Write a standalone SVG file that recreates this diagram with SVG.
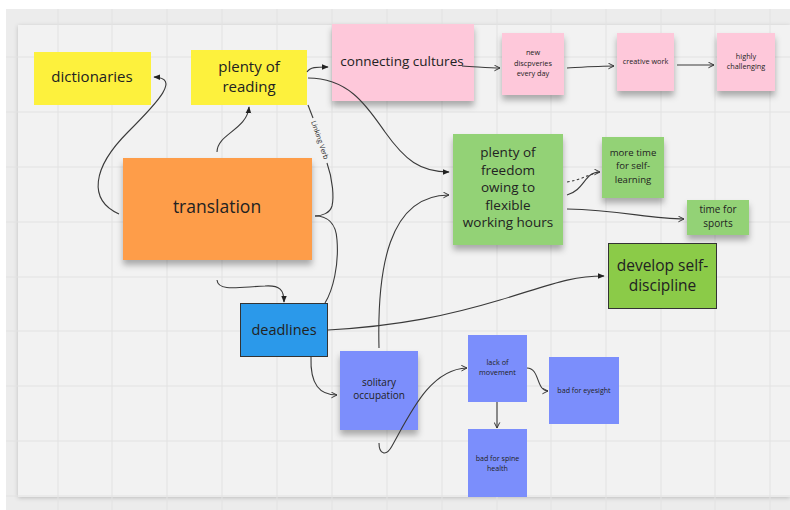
<svg xmlns="http://www.w3.org/2000/svg" width="790" height="510" viewBox="0 0 790 510">
<defs>
<style>
.t{font-family:"Open Sans","Liberation Sans",sans-serif;fill:#222;text-anchor:middle}
.c{fill:none;stroke:#3a3a3a;stroke-width:1.1}
.grid line{stroke:#e2e2e2;stroke-width:1}
</style>
<filter id="sh" x="-20%" y="-20%" width="140%" height="160%">
<feDropShadow dx="0" dy="5" stdDeviation="3" flood-color="#000" flood-opacity="0.3"/>
</filter>
<filter id="psh" x="-5%" y="-5%" width="110%" height="110%">
<feDropShadow dx="0" dy="1" stdDeviation="2" flood-color="#000" flood-opacity="0.2"/>
</filter>
<marker id="af" viewBox="0 0 10 10" refX="9" refY="5" markerWidth="7" markerHeight="7" orient="auto" markerUnits="userSpaceOnUse">
<path d="M0,1 L10,5 L0,9 Z" fill="#222"/>
</marker>
<marker id="ao" viewBox="0 0 10 10" refX="9" refY="5" markerWidth="7" markerHeight="7" orient="auto" markerUnits="userSpaceOnUse">
<path d="M1,1 L9,5 L1,9" fill="none" stroke="#333" stroke-width="1.4"/>
</marker>
</defs>
<rect x="0" y="0" width="790" height="510" fill="#ffffff"/>
<rect x="6" y="9" width="784" height="501" fill="#ececec"/>
<rect x="18" y="25" width="772" height="472" fill="#f2f2f2" filter="url(#psh)"/>
<g class="grid">
<line x1="58" y1="9" x2="58" y2="510"/><line x1="112" y1="9" x2="112" y2="510"/><line x1="167" y1="9" x2="167" y2="510"/><line x1="222" y1="9" x2="222" y2="510"/><line x1="277" y1="9" x2="277" y2="510"/><line x1="332" y1="9" x2="332" y2="510"/><line x1="387" y1="9" x2="387" y2="510"/><line x1="442" y1="9" x2="442" y2="510"/><line x1="497" y1="9" x2="497" y2="510"/><line x1="551" y1="9" x2="551" y2="510"/><line x1="606" y1="9" x2="606" y2="510"/><line x1="661" y1="9" x2="661" y2="510"/><line x1="715" y1="9" x2="715" y2="510"/><line x1="770" y1="9" x2="770" y2="510"/>
<line x1="6" y1="57" x2="790" y2="57"/><line x1="6" y1="112" x2="790" y2="112"/><line x1="6" y1="167" x2="790" y2="167"/><line x1="6" y1="222" x2="790" y2="222"/><line x1="6" y1="277" x2="790" y2="277"/><line x1="6" y1="331" x2="790" y2="331"/><line x1="6" y1="386" x2="790" y2="386"/><line x1="6" y1="441" x2="790" y2="441"/><line x1="6" y1="496" x2="790" y2="496"/>
</g>

<g id="dictionaries">
<rect x="34" y="52" width="117" height="53" fill="#fdf13d"/>
<text class="t" x="92" y="82" font-size="15">dictionaries</text>
</g>
<g id="plenty-of-reading">
<rect x="191" y="50" width="116" height="55" fill="#fdf13d"/>
<text class="t" x="249" y="72" font-size="15">plenty of</text>
<text class="t" x="249" y="92" font-size="15">reading</text>
</g>
<g id="connecting-cultures">
<rect x="332" y="24" width="142" height="77" fill="#fec8da" filter="url(#sh)"/>
<text class="t" x="402" y="66" font-size="13.5">connecting cultures</text>
</g>
<g id="new-discoveries">
<rect x="502" y="33" width="62" height="62" fill="#fec8da" filter="url(#sh)"/>
<text class="t" x="533" y="55" font-size="7.3">new</text>
<text class="t" x="533" y="65.5" font-size="7.3">discpveries</text>
<text class="t" x="533" y="76" font-size="7.3">every day</text>
</g>
<g id="creative-work">
<rect x="617" y="33" width="57" height="58" fill="#fec8da" filter="url(#sh)"/>
<text class="t" x="645.5" y="63.5" font-size="7.3">creative work</text>
</g>
<g id="highly-challenging">
<rect x="717" y="33" width="58" height="58" fill="#fec8da" filter="url(#sh)"/>
<text class="t" x="746" y="58.5" font-size="7.3">highly</text>
<text class="t" x="746" y="68.5" font-size="7.3">challenging</text>
</g>
<g id="plenty-of-freedom">
<rect x="453" y="134" width="110" height="111" fill="#93d276" filter="url(#sh)"/>
<text class="t" x="508" y="157" font-size="13.5">plenty of</text>
<text class="t" x="508" y="174.5" font-size="13.5">freedom</text>
<text class="t" x="508" y="192" font-size="13.5">owing to</text>
<text class="t" x="508" y="209.5" font-size="13.5">flexible</text>
<text class="t" x="508" y="227" font-size="13.5">working hours</text>
</g>
<g id="more-time">
<rect x="602" y="137" width="62" height="61" fill="#93d276" filter="url(#sh)"/>
<text class="t" x="633" y="155.5" font-size="9.6">more time</text>
<text class="t" x="633" y="169" font-size="9.6">for self-</text>
<text class="t" x="633" y="182.5" font-size="9.6">learning</text>
</g>
<g id="time-for-sports">
<rect x="687" y="200" width="62" height="35" fill="#93d276" filter="url(#sh)"/>
<text class="t" x="718" y="212.5" font-size="10">time for</text>
<text class="t" x="718" y="226.5" font-size="10">sports</text>
</g>
<g id="develop-self-discipline">
<rect x="608.5" y="243.5" width="108" height="65" fill="#8bcb48" stroke="#333" stroke-width="1"/>
<text class="t" x="662.5" y="271" font-size="15.5">develop self-</text>
<text class="t" x="662.5" y="291" font-size="15.5">discipline</text>
</g>
<g id="translation">
<rect x="123" y="158" width="189" height="102" fill="#fe9d4a" filter="url(#sh)"/>
<text class="t" x="217" y="213" font-size="17.5">translation</text>
</g>
<g id="deadlines">
<rect x="240.5" y="303.5" width="87" height="53" fill="#2b99ea" stroke="#333" stroke-width="1"/>
<text class="t" x="284" y="334.5" font-size="14.5">deadlines</text>
</g>
<g id="solitary-occupation">
<rect x="340" y="351" width="78" height="79" fill="#7b8efc" filter="url(#sh)"/>
<text class="t" x="379" y="386" font-size="10">solitary</text>
<text class="t" x="379" y="398.5" font-size="10">occupation</text>
</g>
<g id="lack-of-movement">
<rect x="468" y="335" width="59" height="67" fill="#7b8efc"/>
<text class="t" x="497.5" y="364.5" font-size="7.3">lack of</text>
<text class="t" x="497.5" y="375" font-size="7.3">movement</text>
</g>
<g id="bad-for-eyesight">
<rect x="549" y="357" width="70" height="67" fill="#7b8efc"/>
<text class="t" x="584" y="392.5" font-size="7.1">bad for eyesight</text>
</g>
<g id="bad-for-spine">
<rect x="468" y="429" width="59" height="68" fill="#7b8efc"/>
<text class="t" x="497.5" y="460.5" font-size="7.1">bad for spine</text>
<text class="t" x="497.5" y="470.5" font-size="7.1">health</text>
</g>

<g id="connectors">
<path class="c" d="M119,214 C88,200 92,168 128,132 C160,100 180,78 154,77" marker-end="url(#af)"/>
<path class="c" d="M217,152 C217,134 247,130 249,107" marker-end="url(#af)"/>
<path class="c" d="M307,72 C310,67 316,67 328,67" marker-end="url(#af)"/>
<path class="c" d="M308,78 C350,78 368,108 385,132 C405,160 420,172 449,172" marker-end="url(#af)"/>
<path class="c" d="M308,105 L313,118"/>
<text class="t" font-size="7" transform="translate(320,140) rotate(71)" dy="2.5">Linking Verb</text>
<path class="c" d="M327,163 C333,180 334,198 332,206 C330,213 322,216 315,216"/>
<path class="c" d="M315,216 C326,216 336,222 337,240 C339,265 333,290 325,303"/>
<path class="c" d="M217,280 C218,292 240,287 265,286 C280,285 284,290 284,302" marker-end="url(#af)"/>
<path class="c" d="M328,330 C400,326 450,315 500,300 C550,285 570,276 604,276" marker-end="url(#af)"/>
<path class="c" d="M311,357 C310,385 320,395 337,395" marker-end="url(#ao)"/>
<path class="c" d="M379,348 C377,270 388,195 449,195" marker-end="url(#ao)"/>
<path class="c" d="M379,443 C379,454 386,457 392,446 C410,414 430,369 467,368" marker-end="url(#ao)"/>
<path class="c" d="M527,368 C540,368 536,391 548,391" marker-end="url(#ao)"/>
<path class="c" d="M497,402 L497,428" marker-end="url(#ao)"/>
<path class="c" d="M462,66 C480,67 490,68 500,68" marker-end="url(#ao)"/>
<path class="c" d="M567,68 C585,67 600,66 614,66" marker-end="url(#ao)"/>
<path class="c" d="M677,65 L714,65" marker-end="url(#ao)"/>
<path class="c" d="M567,195 C585,190 584,172 600,172" marker-end="url(#ao)"/>
<path class="c" d="M567,182 C580,180 588,175 598,172" stroke-dasharray="2.5,2.5"/>
<path class="c" d="M567,209 C620,210 650,219 684,219" marker-end="url(#ao)"/>
</g>
</svg>
